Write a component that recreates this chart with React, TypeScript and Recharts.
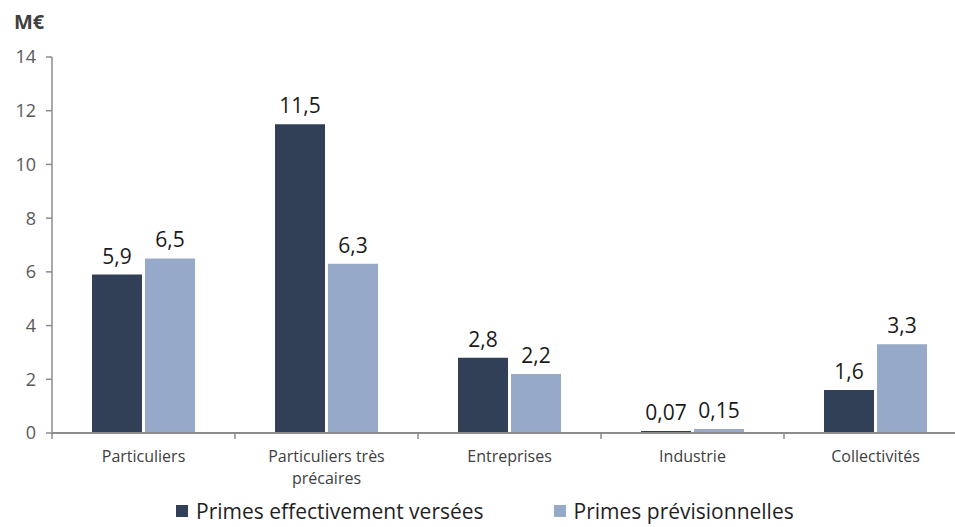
import React from 'react';
import { BarChart, Bar, XAxis, YAxis, LabelList } from 'recharts';

const categories = ['Particuliers', 'Particuliers très précaires', 'Entreprises', 'Industrie', 'Collectivités'];
const primesVersees = [5.9, 11.5, 2.8, 0.07, 1.6];
const primesPrevisionnelles = [6.5, 6.3, 2.2, 0.15, 3.3];
const yTicks = [0, 2, 4, 6, 8, 10, 12, 14];

const DARK = '#313F57';
const LIGHT = '#97A9C8';
const AXIS = '#8C8C8C';
const FONT = '"Open Sans", Roboto, sans-serif';

const labelLines: Record<string, string[]> = {
  'Particuliers très précaires': ['Particuliers très', 'précaires'],
};

const data = categories.map((name, i) => ({
  name,
  versees: primesVersees[i],
  previsionnelles: primesPrevisionnelles[i],
}));

const fmt = (v: any) => String(v).replace('.', ',');

const CategoryTick = ({ x, y, payload }: any) => {
  const half = payload && payload.offset ? payload.offset : 91.5;
  const lines = labelLines[payload.value] || [payload.value];
  return (
    <g>
      <line x1={x - half} x2={x - half} y1={y} y2={y + 6} stroke={AXIS} strokeWidth={1.5} />
      {lines.map((l, i) => (
        <text key={i} x={x} y={y + 29 + i * 22} textAnchor="middle" fill="#404040" fontSize={16} fontFamily={FONT}>
          {l}
        </text>
      ))}
    </g>
  );
};

const App = () => (
  <div
    style={{
      position: 'absolute',
      left: 0,
      top: 0,
      width: 955,
      height: 527,
      overflow: 'hidden',
      background: '#fff',
      fontFamily: FONT,
    }}
  >
    <div style={{ position: 'absolute', left: 14, top: 8, fontSize: 20, fontWeight: 700, color: '#404040' }}>M€</div>
    <BarChart
      width={975}
      height={527}
      data={data}
      margin={{ top: 57, right: 8, bottom: 54, left: 0 }}
      barSize={50}
      barGap={3}
    >
      <XAxis
        dataKey="name"
        height={40}
        tickSize={0}
        tickMargin={0}
        tickLine={false}
        axisLine={{ stroke: AXIS, strokeWidth: 2 }}
        tick={<CategoryTick />}
        interval={0}
      />
      <YAxis
        width={52}
        domain={[0, 14]}
        ticks={yTicks}
        interval={0}
        tickSize={6}
        tickMargin={10}
        axisLine={{ stroke: AXIS, strokeWidth: 1.5 }}
        tickLine={{ stroke: AXIS, strokeWidth: 1.5 }}
        tick={{ fill: '#595959', fontSize: 18, fontFamily: FONT }}
      />
      <Bar dataKey="versees" fill={DARK} isAnimationActive={false}>
        <LabelList dataKey="versees" position="top" offset={11} formatter={fmt} fill="#1a1a1a" fontSize={21} fontFamily={FONT} />
      </Bar>
      <Bar dataKey="previsionnelles" fill={LIGHT} isAnimationActive={false}>
        <LabelList dataKey="previsionnelles" position="top" offset={11} formatter={fmt} fill="#1a1a1a" fontSize={21} fontFamily={FONT} />
      </Bar>
    </BarChart>
    <div
      style={{
        position: 'absolute',
        left: 176,
        top: 498,
        display: 'flex',
        alignItems: 'center',
        gap: 70,
        fontSize: 21,
        lineHeight: '26px',
        color: '#1f1f1f',
        whiteSpace: 'nowrap',
      }}
    >
      <div style={{ display: 'flex', alignItems: 'center' }}>
        <span style={{ width: 12, height: 12, background: DARK, marginRight: 8, display: 'inline-block' }} />
        Primes effectivement versées
      </div>
      <div style={{ display: 'flex', alignItems: 'center' }}>
        <span style={{ width: 12, height: 12, background: LIGHT, marginRight: 8, display: 'inline-block' }} />
        Primes prévisionnelles
      </div>
    </div>
  </div>
);

export default App;
